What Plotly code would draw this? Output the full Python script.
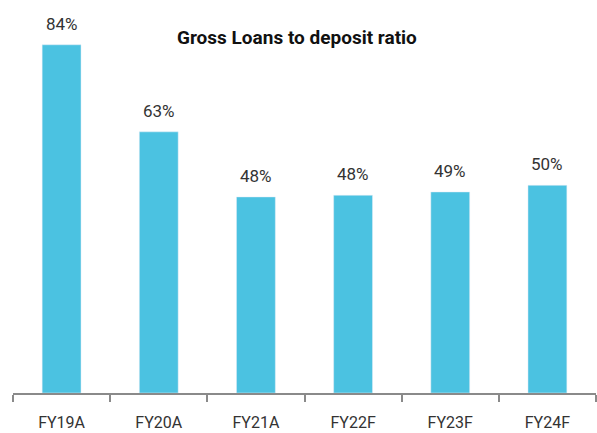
import plotly.graph_objects as go

categories = ["FY19A", "FY20A", "FY21A", "FY22F", "FY23F", "FY24F"]
ratios = [84.0, 63.0, 47.3, 47.7, 48.5, 50.1]
labels = ["84%", "63%", "48%", "48%", "49%", "50%"]

bar_color = "#4BC2E1"

fig = go.Figure()
fig.add_trace(go.Bar(
    x=categories, y=ratios, marker_color=bar_color, width=0.4,
    hoverinfo="skip",
))

for c, v, t in zip(categories, ratios, labels):
    fig.add_annotation(x=c, y=v, text=t, showarrow=False, yanchor="bottom",
                       yshift=9, font=dict(family="Roboto", size=17, color="#333333"))

fig.add_annotation(text="<b>Gross Loans to deposit ratio</b>", xref="paper", yref="y",
                   x=0.487, y=(393 - 37) / 393 * 94.8, yanchor="middle", showarrow=False,
                   font=dict(family="Roboto", size=19, color="#111111"))

fig.update_layout(
    width=597, height=433,
    margin=dict(l=13, r=1, t=0, b=40),
    plot_bgcolor="white", paper_bgcolor="white",
    showlegend=False,
    xaxis=dict(
        type="category", showline=True, linecolor="#8a8a8a", linewidth=2,
        ticks="outside", tickson="boundaries", ticklen=7, tickcolor="#8a8a8a", tickwidth=2,
        tickfont=dict(family="Roboto", size=16, color="#333333"),
        ticklabelstandoff=14,
        showgrid=False, zeroline=False,
    ),
    yaxis=dict(range=[0, 94.8], visible=False, showgrid=False, zeroline=False),
)

fig.write_html("out.html")
